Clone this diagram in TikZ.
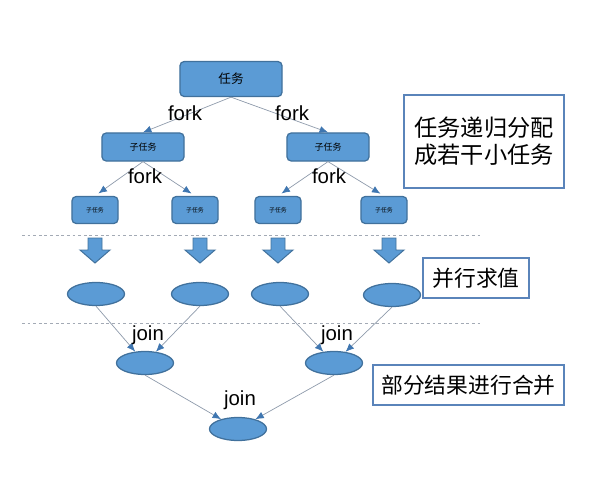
\documentclass[tikz,border=0pt]{standalone}
\usepackage{fontspec}
\setmainfont{Liberation Sans}
\newfontfamily\cjk{Noto Sans CJK SC}
\usetikzlibrary{arrows.meta,shapes.geometric}
\definecolor{taskfill}{HTML}{5B9BD5}
\definecolor{taskedge}{HTML}{41719C}
\definecolor{linkgray}{HTML}{8E9AAB}
\definecolor{tipblue}{HTML}{3F76B0}
\definecolor{noteedge}{HTML}{5A84BA}
\definecolor{dashgray}{HTML}{A3AAB5}

\begin{document}
\begin{tikzpicture}[x=0.025cm,y=-0.025cm,>=Latex,
  task/.style={draw=taskedge,fill=taskfill,line width=0.9pt,rounded corners=3pt,inner sep=0pt},
  result/.style={ellipse,draw=taskedge,fill=taskfill,line width=0.9pt,minimum width=1.425cm,minimum height=0.575cm,inner sep=0pt},
  link/.style={draw=linkgray,line width=0.5pt,-{Latex[length=6pt,width=5pt,color=tipblue]}},
  note/.style={draw=noteedge,line width=1.2pt,fill=white,align=center,inner sep=0pt},
  cut/.style={draw=dashgray,dash pattern=on 2pt off 2pt,line width=0.5pt},
  blockarrow/.style={draw=taskedge,fill=taskfill,line width=0.7pt},
  lbl/.style={font=\fontsize{14.5}{16}\selectfont}]
  \useasboundingbox (0,0) rectangle (600,480);

  % fork tree
  \node[task,minimum width=2.55cm,minimum height=0.875cm,font=\cjk\fontsize{9}{10}\selectfont] (root) at (231,79) {任务};
  \node[task,minimum width=2.05cm,minimum height=0.7cm,font=\cjk\fontsize{6.4}{7}\selectfont] (subL) at (143,147) {子任务};
  \node[task,minimum width=2.05cm,minimum height=0.7cm,font=\cjk\fontsize{6.4}{7}\selectfont] (subR) at (328,147) {子任务};
  \foreach \name/\x in {leafA/95,leafB/195,leafC/278,leafD/384}
    \node[task,minimum width=1.15cm,minimum height=0.675cm,font=\cjk\fontsize{4.2}{5}\selectfont] (\name) at (\x,210) {子任务};

  \draw[link] (root.south) -- (subL.north);
  \draw[link] (root.south) -- (subR.north);
  \draw[link,shorten >=3pt] (subL.south) -- (leafA.north);
  \draw[link,shorten >=3pt] (subL.south) -- (leafB.north);
  \draw[link,shorten >=3pt] (subR.south) -- (leafC.north);
  \draw[link,shorten >=3pt] (subR.south) -- (leafD.north);

  \node[lbl] (forkA) at (185,113) {fork};
  \node[lbl] (forkB) at (292,113) {fork};
  \node[lbl] (forkC) at (145,176) {fork};
  \node[lbl] (forkD) at (329,176) {fork};

  % separators
  \draw[cut] (22,235) -- (483,235);
  \draw[cut] (22,323) -- (483,323);

  % evaluation
  \foreach \x in {95,200,278,389}
    \draw[blockarrow] (\x-7,238) -- (\x+7,238) -- (\x+7,250) -- (\x+15,250)
      -- (\x,263) -- (\x-15,250) -- (\x-7,250) -- cycle;
  \node[result] (valA) at (96,294) {};
  \node[result] (valB) at (200,294) {};
  \node[result] (valC) at (280,294) {};
  \node[result] (valD) at (392,295) {};

  % join tree
  \node[result] (joinL) at (145,363) {};
  \node[result] (joinR) at (334,363) {};
  \node[result] (total) at (238,429) {};
  \draw[link] (valA.south) -- (joinL);
  \draw[link] (valB.south) -- (joinL);
  \draw[link] (valC.south) -- (joinR);
  \draw[link] (valD.south) -- (joinR);
  \draw[link] (joinL.south) -- (total);
  \draw[link] (joinR.south) -- (total);

  \node[lbl] (joinA) at (148,335) {join};
  \node[lbl] (joinB) at (337,335) {join};
  \node[lbl] (joinC) at (240,400) {join};

  % notes
  \node[note,minimum width=4cm,minimum height=2.325cm,font=\cjk\fontsize{16.5}{19.5}\selectfont] (noteFork) at (484,141.5) {任务递归分配\\成若干小任务};
  \node[note,minimum width=2.65cm,minimum height=1cm,font=\cjk\fontsize{15.5}{18}\selectfont] (noteEval) at (476,278) {并行求值};
  \node[note,minimum width=4.775cm,minimum height=1cm,font=\cjk\fontsize{15.5}{18}\selectfont] (noteJoin) at (468.5,385) {部分结果进行合并};
\end{tikzpicture}
\end{document}
